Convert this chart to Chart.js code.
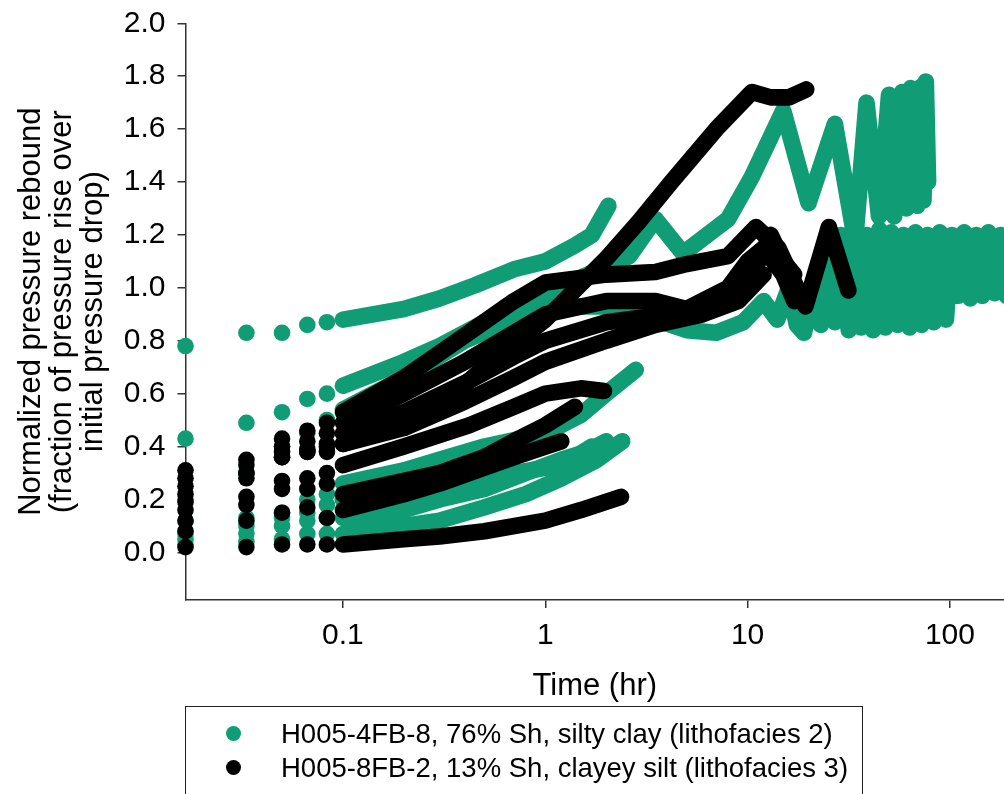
<!DOCTYPE html>
<html>
<head>
<meta charset="utf-8">
<script src="https://cdn.jsdelivr.net/npm/chart.js@4.4.1/dist/chart.umd.min.js"></script>
<style>
  body { margin: 0; background: #fff; overflow: hidden; }
  #wrap { position: relative; width: 1004px; height: 794px; overflow: hidden; }
  #legend {
    position: absolute; left: 185px; top: 706px; width: 676px; height: 120px;
    border: 1.5px solid #222; font-family: "Liberation Sans", Arial, sans-serif;
    font-size: 27.5px; color: #000;
  }
  .row { position: absolute; left: 0; white-space: nowrap; }
  .dot { position: absolute; width: 15px; height: 15px; border-radius: 50%; }
  .txt { position: absolute; left: 95px; line-height: 30px; }
</style>
</head>
<body>
<div id="wrap">
  <canvas id="grafico" width="1004" height="794"></canvas>
  <div id="legend"></div>
</div>
<script>
// tick labels
const timeTicks = [0.1, 1, 10, 100];
const reboundTicks = [0.0, 0.2, 0.4, 0.6, 0.8, 1.0, 1.2, 1.4, 1.6, 1.8, 2.0];

const seriesNames = [
  "H005-4FB-8, 76% Sh, silty clay (lithofacies 2)",
  "H005-8FB-2, 13% Sh, clayey silt (lithofacies 3)"
];
const verde = "#109c74";
const negro = "#000000";

// each test: [time (hr), normalized rebound]
const green1 = [[1/60,0.78],[2/60,0.83],[3/60,0.83],[4/60,0.86],[5/60,0.87],[0.1,0.88],[0.2,0.92],[0.3,0.96],[0.45,1.01],[0.7,1.07],[1,1.1],[1.4,1.16],[1.7,1.2],[2.05,1.31]];
const green2 = [[1/60,0.43],[2/60,0.49],[3/60,0.53],[4/60,0.58],[5/60,0.6],[0.1,0.63],[0.2,0.72],[0.3,0.78],[0.5,0.87],[1,0.98],[2,1.08],[2.6,1.12],[3.5,1.26],[4.8,1.13],[8,1.26],[10.5,1.42],[15,1.67],[20,1.32],[27,1.62],[34,1.18],[38.7,1.70],[44.6,1.27],[50,1.73],[53,1.27],[58,1.74],[61,1.3],[64,1.755],[69,1.31],[72,1.76],[74,1.33],[76,1.78],[78,1.4]];
const green3 = [[1/60,0.2],[2/60,0.3],[3/60,0.4],[4/60,0.45],[5/60,0.5],[0.1,0.54],[0.2,0.66],[0.4,0.8],[0.7,0.88],[1,0.93],[2,0.93],[3.5,0.88],[5,0.84],[7,0.83],[9.5,0.87],[12,0.95],[14,0.88],[16,1.0],[17.5,0.86],[19,0.83],[21,1.0],[23,0.86],[25,1.18],[27,0.87],[29,1.2],[31.6,0.84],[33.9,1.21],[36.3,0.85],[38.9,1.2],[41.7,0.84],[44.7,1.22],[47.9,0.85],[51.3,1.21],[55,0.86],[58.9,1.2],[63.1,0.85],[67.6,1.21],[72.4,0.86],[77.6,1.2],[83.2,0.87],[89.1,1.21],[95.5,0.88],[102.3,1.2],[109.6,0.97],[117.5,1.21],[125.9,0.96],[134.9,1.2],[144.5,0.97],[154.9,1.21],[166,0.98],[177.8,1.2],[190.5,0.97]];
const green4 = [[1/60,0.12],[2/60,0.13],[3/60,0.15],[4/60,0.2],[5/60,0.22],[0.1,0.26],[0.2,0.31],[0.3,0.35],[0.5,0.4],[1,0.45],[1.5,0.52],[2,0.6],[2.8,0.69]];
const green5 = [[1/60,0.05],[2/60,0.1],[3/60,0.13],[4/60,0.15],[5/60,0.18],[0.1,0.2],[0.2,0.22],[0.3,0.25],[0.5,0.28],[1,0.32],[1.4,0.36],[1.7,0.4]];
const green6 = [[1/60,0.07],[2/60,0.07],[3/60,0.1],[4/60,0.12],[5/60,0.13],[0.1,0.13],[0.2,0.16],[0.3,0.2],[0.5,0.24],[0.8,0.3],[1.2,0.35],[1.6,0.38],[2,0.42]];
const green7 = [[1/60,0.03],[2/60,0.04],[3/60,0.05],[4/60,0.07],[5/60,0.07],[0.1,0.07],[0.2,0.1],[0.3,0.12],[0.5,0.17],[0.8,0.22],[1.2,0.28],[1.8,0.35],[2.4,0.42]];
const green8 = [[0.1,0.2],[0.2,0.24],[0.36,0.27],[0.5,0.33],[0.74,0.4]];

const black1 = [[1/60,0.02],[2/60,0.02],[3/60,0.03],[4/60,0.03],[5/60,0.03],[0.1,0.03],[0.2,0.05],[0.3,0.06],[0.5,0.08],[1,0.12],[1.5,0.16],[2.37,0.21]];
const black2 = [[1/60,0.22],[2/60,0.3],[3/60,0.36],[4/60,0.38],[5/60,0.4],[0.1,0.41],[0.2,0.48],[0.3,0.55],[0.5,0.7],[1,0.88],[2,1.11],[2.9,1.25],[4.2,1.4],[7,1.6],[10.5,1.74],[13,1.72],[16,1.72],[19.5,1.75]];
const black3 = [[1/60,0.31],[2/60,0.35],[3/60,0.43],[4/60,0.46],[5/60,0.49],[0.1,0.53],[0.2,0.66],[0.4,0.82],[0.7,0.95],[1,1.02],[2,1.05],[3.5,1.06],[5,1.09],[8,1.12],[11,1.23],[14.2,1.15],[19.3,0.93],[25.2,1.23],[31.5,0.99]];
const black4 = [[1/60,0.28],[2/60,0.33],[3/60,0.4],[4/60,0.42],[5/60,0.45],[0.1,0.49],[0.2,0.6],[0.4,0.72],[0.7,0.83],[1,0.9],[2,0.95],[3.5,0.95],[5,0.92],[8,1.0],[10,1.1],[12,1.15],[15,1.05],[17,0.95]];
const black5 = [[1/60,0.25],[2/60,0.3],[3/60,0.36],[4/60,0.39],[5/60,0.41],[0.1,0.45],[0.2,0.53],[0.4,0.64],[0.7,0.74],[1,0.8],[2,0.87],[4,0.9],[6,0.92],[9,1.0],[11,1.08],[13,1.2],[15,1.1],[17,1.05]];
const black6 = [[1/60,0.19],[2/60,0.28],[3/60,0.38],[4/60,0.38],[5/60,0.38],[0.1,0.41],[0.2,0.47],[0.4,0.57],[0.7,0.66],[1,0.72],[2,0.8],[3.5,0.86],[6,0.9],[9,0.95],[12,1.05]];
const black7 = [[1/60,0.16],[2/60,0.21],[3/60,0.27],[4/60,0.28],[5/60,0.3],[0.1,0.33],[0.2,0.4],[0.42,0.48],[0.7,0.55],[1,0.6],[1.5,0.62],[1.95,0.61]];
const black8 = [[1/60,0.12],[2/60,0.18],[3/60,0.24],[4/60,0.24],[5/60,0.26],[0.1,0.22],[0.2,0.27],[0.3,0.3],[0.5,0.36],[0.7,0.42],[1,0.48],[1.4,0.55]];
const black9 = [[1/60,0.08],[2/60,0.12],[3/60,0.15],[4/60,0.17],[5/60,0.13],[0.1,0.16],[0.2,0.22],[0.3,0.26],[0.5,0.32],[0.7,0.36],[1,0.4],[1.2,0.42]];

const greenTests = [green1, green2, green3, green4, green5, green6, green7, green8];
const blackTests = [black1, black2, black3, black4, black5, black6, black7, black8, black9];

const fuente = "'Liberation Sans', Arial, sans-serif";
const radio = 8.3;

// first minutes show as loose dots, after 0.1 hr they merge into a band
function armarSerie(puntos, color, orden) {
  return {
    data: puntos.map(p => ({ x: p[0], y: p[1] })),
    showLine: true,
    borderColor: color,
    backgroundColor: color,
    borderWidth: radio * 2,
    borderCapStyle: "round",
    borderJoinStyle: "round",
    pointRadius: c => (c.raw && c.raw.x < 0.095 ? radio : 0),
    pointBorderWidth: 0,
    pointHoverRadius: 0,
    segment: { borderColor: c => (c.p0.parsed.x < 0.095 ? "rgba(0,0,0,0)" : color) },
    clip: false,
    order: orden
  };
}

const datasets = [];
blackTests.forEach(t => datasets.push(armarSerie(t, negro, 0)));
greenTests.forEach(t => datasets.push(armarSerie(t, verde, 1)));

const ctx = document.getElementById("grafico").getContext("2d");
new Chart(ctx, {
  type: "scatter",
  data: { datasets: datasets },
  options: {
    responsive: false,
    animation: false,
    events: [],
    layout: { autoPadding: false, padding: { top: 23.3, right: 0, bottom: 0, left: 0 } },
    plugins: { legend: { display: false }, tooltip: { enabled: false } },
    scales: {
      x: {
        type: "logarithmic",
        min: 1 / 60,
        max: 185,
        afterBuildTicks: s => { s.ticks = timeTicks.map(v => ({ value: v })); },
        afterFit: s => { s.height = 194; s.paddingLeft = 0; s.paddingRight = 0; },
        ticks: {
          autoSkip: false, maxRotation: 0, padding: 10, color: "#000",
          font: { family: fuente, size: 30 },
          callback: v => String(v)
        },
        grid: { drawOnChartArea: false, drawTicks: true, tickLength: 8, color: "#333", lineWidth: 1.5 },
        border: { display: true, color: "#333", width: 1.5 },
        title: { display: true, text: "Time (hr)", color: "#000", font: { family: fuente, size: 31, lineHeight: 1.2 }, padding: { top: 0, bottom: 89 } }
      },
      y: {
        min: -0.18,
        max: 2.0,
        afterBuildTicks: s => { s.ticks = reboundTicks.map(v => ({ value: v })); },
        afterFit: s => { s.width = 185.5; s.paddingTop = 0; s.paddingBottom = 0; },
        ticks: {
          padding: 12, color: "#000",
          font: { family: fuente, size: 30 },
          callback: v => Number(v).toFixed(1)
        },
        grid: { drawOnChartArea: false, drawTicks: true, tickLength: 8, color: "#333", lineWidth: 1.5 },
        border: { display: true, color: "#333", width: 1.5 },
        title: {
          display: true,
          text: ["Normalized pressure rebound", "(fraction of pressure rise over", "initial pressure drop)"],
          color: "#000", font: { family: fuente, size: 31, lineHeight: 1.0 }, padding: { top: 15.5, bottom: 0 }
        }
      }
    }
  }
});

// legend box under the plot
const leyenda = document.getElementById("legend");
[verde, negro].forEach((c, i) => {
  const fila = document.createElement("div");
  fila.className = "row";
  fila.style.top = (12 + i * 34) + "px";
  fila.innerHTML = `<span class="dot" style="left:40px;top:7px;background:${c}"></span><span class="txt">${seriesNames[i]}</span>`;
  leyenda.appendChild(fila);
});
</script>
</body>
</html>
